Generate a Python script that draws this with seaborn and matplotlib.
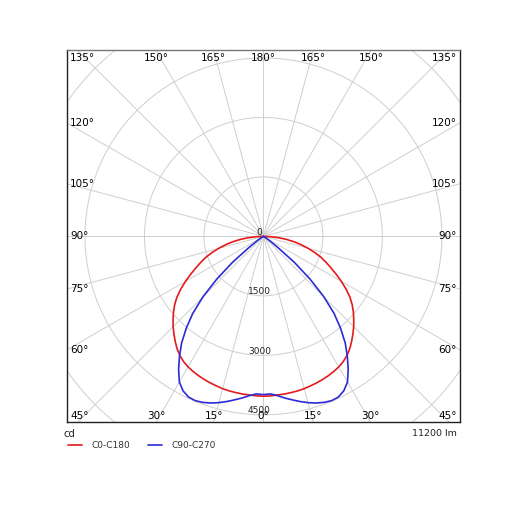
import numpy as np
import pandas as pd
import matplotlib
matplotlib.use('Agg')
import matplotlib.pyplot as plt
import seaborn as sns
from matplotlib.lines import Line2D

# Luminous intensity (cd) vs gamma angle from nadir, one half of each plane
red_angles = [0, 2.5, 5, 7.5, 10, 12.5, 15, 17.5, 20, 22.5, 25, 27.5, 30, 32.5, 35, 37.5,
              40, 42.5, 45, 47.5, 50, 52.5, 55, 57.5, 60, 62.5, 65, 67.5, 70, 72.5, 75,
              77.5, 80, 82.5, 85, 87.5, 90]
red_cd = [4030, 4025, 4015, 4010, 4000, 3990, 3975, 3952, 3930, 3905, 3875, 3840, 3800,
          3745, 3670, 3575, 3460, 3340, 3220, 3090, 2960, 2820, 2660, 2470, 2270, 2070,
          1880, 1710, 1550, 1360, 1170, 980, 790, 590, 390, 190, 0]

blue_angles = [0, 2.5, 5, 7.5, 10, 12.5, 15, 17.5, 20, 22.5, 25, 27.5, 30, 32.5, 35, 37.5,
               40, 42.5, 45, 47.5, 50, 52.5, 55, 57.5, 60, 70, 90]
blue_cd = [3990, 3975, 4030, 4110, 4185, 4265, 4340, 4405, 4455, 4485, 4470, 4390, 4240,
           3980, 3690, 3390, 3030, 2640, 2160, 1600, 1020, 450, 200, 80, 30, 10, 0]

plane_names = ['C0-C180', 'C90-C270']
plane_colors = ['#e41a1c', '#2b2bd6']
ring_values = [1500, 3000, 4500, 6000]
ring_labels = ['0', '1500', '3000', '4500']
flux_text = '11200 lm'
unit_text = 'cd'


def plane_frame(angles, values, name):
    # mirror the half curve to get the full (left + right) curve
    a = np.array(angles, dtype=float)
    v = np.array(values, dtype=float)
    g = np.concatenate([-a[::-1], a[1:]])
    r = np.concatenate([v[::-1], v[1:]])
    rad = np.radians(g)
    return pd.DataFrame({'x': r * np.sin(rad), 'y': -r * np.cos(rad), 'plane': name})


df = pd.concat([plane_frame(red_angles, red_cd, plane_names[0]),
                plane_frame(blue_angles, blue_cd, plane_names[1])], ignore_index=True)

sns.set_style('white')
plt.rcParams['font.family'] = ['DejaVu Sans']

fig = plt.figure(figsize=(5.15, 5.15), dpi=100)
ax = fig.add_axes([0.130, 0.1806, 0.763, 0.7223])

xmax, ytop, ybot = 4955, 4700, -4680
ax.set_xlim(-xmax, xmax)
ax.set_ylim(ybot, ytop)

# grid: rings and rays every 15 deg
grid_c = '#cfcfcf'
t = np.linspace(0, 2 * np.pi, 400)
for rv in ring_values:
    ax.plot(rv * np.cos(t), rv * np.sin(t), color=grid_c, lw=0.7, zorder=1)
for g in range(0, 360, 15):
    rad = np.radians(g)
    ax.plot([0, 8000 * np.sin(rad)], [0, -8000 * np.cos(rad)], color=grid_c, lw=0.7, zorder=1)

sns.lineplot(data=df, x='x', y='y', hue='plane', palette=dict(zip(plane_names, plane_colors)),
             sort=False, estimator=None, legend=False, lw=1.2, ax=ax, zorder=3)

# ring value labels along the vertical axis
for i, lab in enumerate(ring_labels):
    r = 0 if i == 0 else ring_values[i - 1]
    ax.text(-100, -r + 100, lab, ha='center', va='center', fontsize=6.5, color='#222222', zorder=4)

# angle labels along the frame
for g in range(0, 181, 15):
    sides = [1] if g in (0, 180) else [1, -1]
    for s in sides:
        rad = np.radians(g)
        dx, dy = s * np.sin(rad), -np.cos(rad)
        lab = f'{g}\u00b0'
        if g in (45, 135):
            x = s * xmax
            y = ybot if g == 45 else ytop
            ha = 'right' if s > 0 else 'left'
            va = 'bottom' if g == 45 else 'top'
            off = (-3 * s, 1 if g == 45 else -3)
        elif g < 45:
            x, y = ybot / dy * dx, ybot
            ha, va, off = 'center', 'bottom', (0, 1)
        elif g > 135:
            x, y = ytop / dy * dx, ytop
            ha, va, off = 'center', 'top', (0, -3)
        else:
            x = s * xmax
            y = x / dx * dy
            ha = 'right' if s > 0 else 'left'
            va, off = 'center', (-3 * s, 0)
        ax.annotate(lab, (x, y), xytext=off, textcoords='offset pixels',
                    ha=ha, va=va, fontsize=7.5, color='black', zorder=5)

ax.set_xticks([])
ax.set_yticks([])
ax.set_xlabel('')
ax.set_ylabel('')
for sp in ax.spines.values():
    sp.set_visible(True)
    sp.set_color('#222222')
    sp.set_linewidth(1.0)
ax.spines['top'].set_color('#777777')

fig.text(64 / 515, 1 - 434 / 515, unit_text, ha='left', va='center', fontsize=7.3, color='#222222')
fig.text(457 / 515, 1 - 434 / 515, flux_text, ha='right', va='center', fontsize=6.8, color='#222222')

handles = [Line2D([], [], color=c, lw=1.2) for c in plane_colors]
fig.legend(handles, plane_names, loc='center left', bbox_to_anchor=(68 / 515, 1 - 446 / 515),
           ncol=2, frameon=False, fontsize=6.5, handlelength=1.5, handletextpad=1.1,
           columnspacing=2.0, borderpad=0, borderaxespad=0, labelcolor='#333333')

fig.savefig('out.png', dpi=100)
